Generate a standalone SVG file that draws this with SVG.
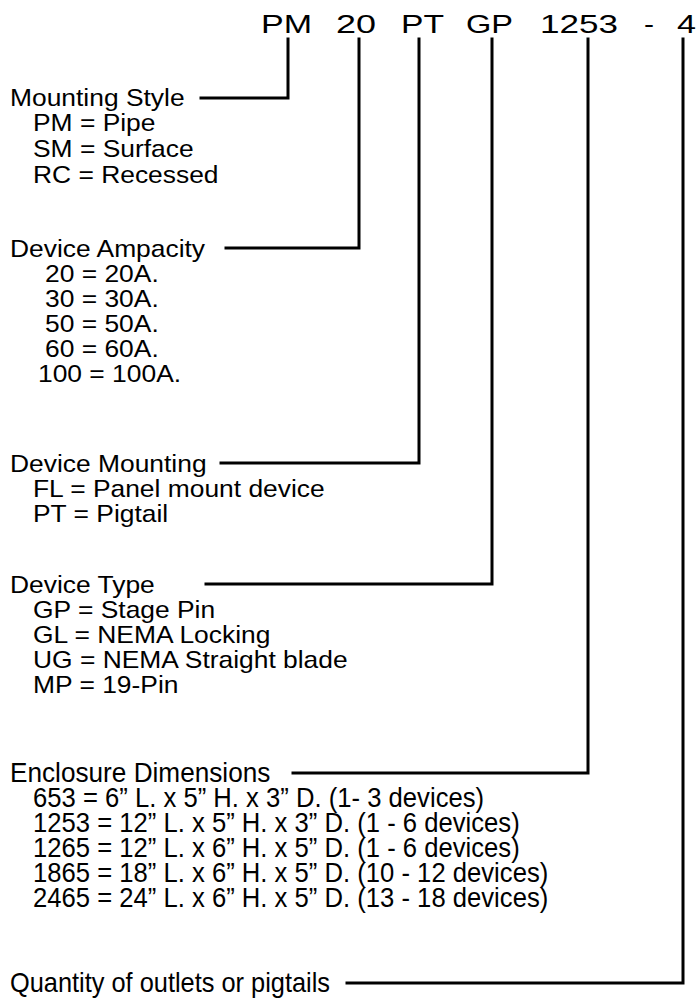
<svg xmlns="http://www.w3.org/2000/svg" width="697" height="999" viewBox="0 0 697 999">
<style>
text{font-family:"Liberation Sans",Arial,sans-serif;font-size:24px;fill:#000}
.hd{font-size:25px}
.nar{font-size:27px}
.c{fill:none;stroke:#000;stroke-width:3;stroke-linejoin:miter;stroke-linecap:square}
</style>
<rect width="697" height="999" fill="#fff"/>
<g id="header">
<text class="hd" x="261" y="33" textLength="51" lengthAdjust="spacingAndGlyphs">PM</text>
<text class="hd" x="336" y="33" textLength="40" lengthAdjust="spacingAndGlyphs">20</text>
<text class="hd" x="401" y="33" textLength="43" lengthAdjust="spacingAndGlyphs">PT</text>
<text class="hd" x="466" y="33" textLength="47" lengthAdjust="spacingAndGlyphs">GP</text>
<text class="hd" x="540" y="33" textLength="78" lengthAdjust="spacingAndGlyphs">1253</text>
<text class="hd" x="644" y="33" textLength="10" lengthAdjust="spacingAndGlyphs">-</text>
<text class="hd" x="677" y="33" textLength="19" lengthAdjust="spacingAndGlyphs">4</text>
</g>
<g id="connectors">
<path class="c" d="M288,39 V98 H201"/>
<path class="c" d="M359,39 V248 H226"/>
<path class="c" d="M419,39 V463 H221"/>
<path class="c" d="M492,39 V584 H206"/>
<path class="c" d="M588,39 V773 H293"/>
<path class="c" d="M683,39 V983 H347"/>
</g>
<g id="mounting-style">
<text transform="matrix(1.1,0,0,1,10,0)" y="106">Mounting Style</text>
<text transform="matrix(1.1,0,0,1,33,0)" y="131">PM = Pipe</text>
<text transform="matrix(1.1,0,0,1,33,0)" y="157">SM = Surface</text>
<text transform="matrix(1.1,0,0,1,33,0)" y="183">RC = Recessed</text>
</g>
<g id="device-ampacity">
<text transform="matrix(1.1,0,0,1,10,0)" y="257">Device Ampacity</text>
<text transform="matrix(1.1,0,0,1,45,0)" y="282">20 = 20A.</text>
<text transform="matrix(1.1,0,0,1,45,0)" y="307">30 = 30A.</text>
<text transform="matrix(1.1,0,0,1,45,0)" y="332">50 = 50A.</text>
<text transform="matrix(1.1,0,0,1,45,0)" y="357">60 = 60A.</text>
<text transform="matrix(1.1,0,0,1,38,0)" y="382">100 = 100A.</text>
</g>
<g id="device-mounting">
<text transform="matrix(1.1,0,0,1,10,0)" y="472">Device Mounting</text>
<text transform="matrix(1.1,0,0,1,33,0)" y="497">FL = Panel mount device</text>
<text transform="matrix(1.1,0,0,1,33,0)" y="522">PT = Pigtail</text>
</g>
<g id="device-type">
<text transform="matrix(1.1,0,0,1,10,0)" y="593">Device Type</text>
<text transform="matrix(1.1,0,0,1,33,0)" y="618">GP = Stage Pin</text>
<text transform="matrix(1.1,0,0,1,33,0)" y="643">GL = NEMA Locking</text>
<text transform="matrix(1.1,0,0,1,33,0)" y="668">UG = NEMA Straight blade</text>
<text transform="matrix(1.1,0,0,1,33,0)" y="693">MP = 19-Pin</text>
</g>
<g id="enclosure-dimensions">
<text class="nar" transform="matrix(0.97,0,0,1,10,0)" y="782">Enclosure Dimensions</text>
<text class="nar" transform="matrix(0.95,0,0,1,33,0)" y="807">653 = 6” L. x 5” H. x 3” D. (1- 3 devices)</text>
<text class="nar" transform="matrix(0.95,0,0,1,33,0)" y="832">1253 = 12” L. x 5” H. x 3” D. (1 - 6 devices)</text>
<text class="nar" transform="matrix(0.95,0,0,1,33,0)" y="857">1265 = 12” L. x 6” H. x 5” D. (1 - 6 devices)</text>
<text class="nar" transform="matrix(0.95,0,0,1,33,0)" y="882">1865 = 18” L. x 6” H. x 5” D. (10 - 12 devices)</text>
<text class="nar" transform="matrix(0.95,0,0,1,33,0)" y="907">2465 = 24” L. x 6” H. x 5” D. (13 - 18 devices)</text>
</g>
<g id="quantity">
<text class="nar" transform="matrix(0.94,0,0,1,10,0)" y="992">Quantity of outlets or pigtails</text>
</g>
</svg>
